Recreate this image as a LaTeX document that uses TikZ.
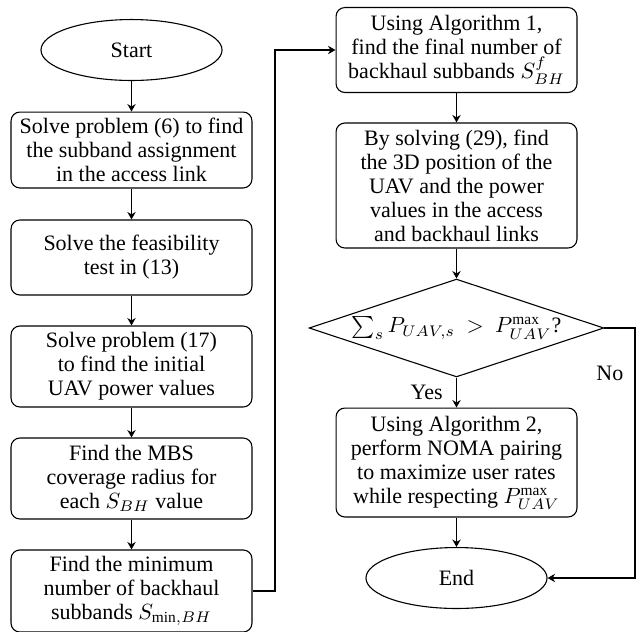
\documentclass[tikz,border=0pt]{standalone}
\usepackage{fontspec}
\setmainfont{Liberation Serif}
\usetikzlibrary{shapes.geometric,arrows.meta}
\begin{document}
\begin{tikzpicture}[x=0.454545pt,y=-0.454545pt,
  every node/.style={font=\fontsize{10pt}{10.9pt}\selectfont},
  stepbox/.style={draw, rounded corners=4pt, minimum width=109.5pt, align=center, inner sep=2pt, line width=0.5pt},
  term/.style={draw, ellipse, minimum width=82.3pt, minimum height=27.7pt, inner sep=0pt, line width=0.5pt},
  decision/.style={draw, diamond, minimum width=134pt, minimum height=44.5pt, inner sep=0pt, line width=0.5pt},
  arr/.style={-{Stealth[length=3.4pt,width=3.8pt,inset=1.1pt]}, line width=0.9pt}]
\useasboundingbox (0,0) rectangle (636,631);

% left column
\node[term] (start) at (131.5,50) {Start};
\node[stepbox, minimum height=34.5pt] (b1) at (131.5,150) {Solve problem (6) to find\\the subband assignment\\in the access link};
\node[stepbox, minimum height=34.1pt] (b2) at (131.5,257.5) {Solve the feasibility\\test in (13)};
\node[stepbox, minimum height=36.8pt] (b3) at (131.5,366.5) {Solve problem (17)\\to find the initial\\UAV power values};
\node[stepbox, minimum height=36.8pt] (b4) at (131.5,478.5) {Find the MBS\\coverage radius for\\each $S_{BH}$ value};
\node[stepbox, minimum height=37.3pt] (b5) at (131.5,591) {Find the minimum\\number of backhaul\\subbands $S_{\min,BH}$};

% right column
\node[stepbox, minimum height=38.6pt] (b6) at (456.5,50) {Using Algorithm 1,\\find the final number of\\backhaul subbands $S^{f}_{BH}$};
\node[stepbox, minimum height=56.8pt] (b7) at (456.5,185.5) {By solving (29), find\\the 3D position of the\\UAV and the power\\values in the access\\and backhaul links};
\node[decision] (dec) at (456.5,328) {};
\node[inner sep=0pt] (dectext) at (dec.center) {$\sum_s P_{UAV,s} \ > \ P_{UAV}^{\max}$?};
\node[stepbox, minimum height=49.5pt] (b8) at (456.5,462.5) {Using Algorithm 2,\\perform NOMA pairing\\to maximize user rates\\while respecting $P_{UAV}^{\max}$};
\node[term] (end) at (456.5,578) {End};

\coordinate (lc) at (275,591);
\coordinate (rc) at (635,328);

% connectors
\draw[arr] (start.south) -- (b1.north);
\draw[arr] (b1.south) -- (b2.north);
\draw[arr] (b2.south) -- (b3.north);
\draw[arr] (b3.south) -- (b4.north);
\draw[arr] (b4.south) -- (b5.north);
\draw[arr] (b5.east) -- (lc) |- (b6.west);
\draw[arr] (b6.south) -- (b7.north);
\draw[arr] (b7.south) -- (dec.north);
\draw[arr] (dec.south) -- node[midway, left=2.5pt] (yes) {Yes} (b8.north);
\draw[arr] (b8.south) -- (end.north);
\draw[arr] (dec.east) -- (rc) -- node[pos=0.18, left=1.5pt] (no) {No} (rc |- end.east) -- (end.east);
\end{tikzpicture}
\end{document}
